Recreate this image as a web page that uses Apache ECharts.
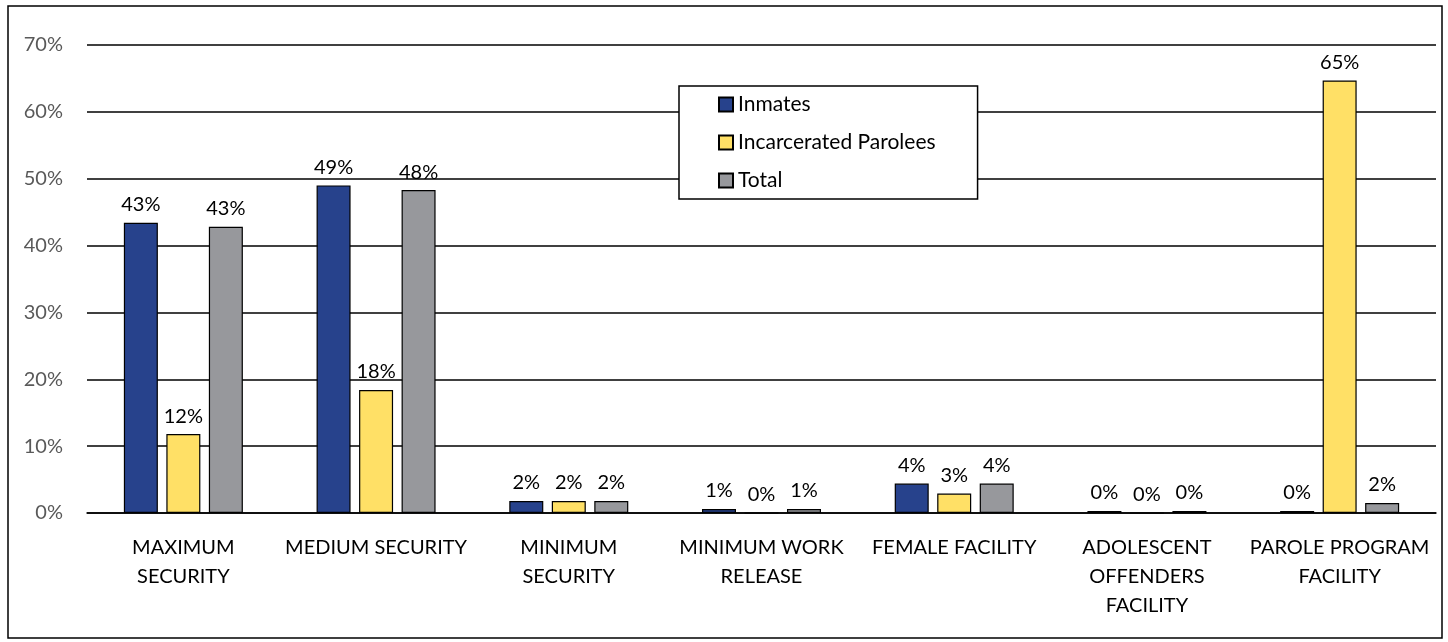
<!DOCTYPE html>
<html>
<head>
<meta charset="utf-8">
<script src="https://cdn.jsdelivr.net/npm/echarts@6/dist/echarts.min.js"></script>
<style>html,body{margin:0;padding:0;background:#fff}#c{width:1448px;height:642px}</style>
</head>
<body>
<div id="c"></div>
<script>
const categories = ['MAXIMUM\nSECURITY', 'MEDIUM SECURITY', 'MINIMUM\nSECURITY', 'MINIMUM WORK\nRELEASE', 'FEMALE FACILITY', 'ADOLESCENT\nOFFENDERS\nFACILITY', 'PAROLE PROGRAM\nFACILITY'];
const inmates = [43.4, 49.0, 1.8, 0.6, 4.4, 0.3, 0.3];
const parolees = [11.8, 18.4, 1.8, 0.0, 2.9, 0.0, 64.7];
const total = [42.8, 48.3, 1.8, 0.6, 4.4, 0.3, 1.5];
const yTicks = [0, 10, 20, 30, 40, 50, 60, 70];

const font = 'Lato, "Noto Sans", sans-serif';
const chart = echarts.init(document.getElementById('c'));
function mk(name, data, color) {
  return {
    name, type: 'bar', data, barWidth: 34, barGap: '25%',
    itemStyle: { color, borderColor: '#000', borderWidth: 1.2 },
    label: { show: true, position: 'top', distance: 8, color: '#000', fontSize: 20, fontFamily: font,
      formatter: p => Math.round(p.value) + '%' }
  };
}
chart.setOption({
  animation: false,
  graphic: [{ type: 'rect', shape: { x: 8, y: 6, width: 1434, height: 632 }, style: { fill: 'none', stroke: '#000', lineWidth: 1.5 }, silent: true }],
  legend: {
    orient: 'vertical', left: 679, top: 86,
    padding: [8, 42, 8, 39], itemGap: 17, itemWidth: 14, itemHeight: 14,
    borderColor: '#000', borderWidth: 1.5, backgroundColor: '#fff',
    icon: 'rect',
    textStyle: { fontSize: 21, fontFamily: font, color: '#000' },
    data: ['Inmates', 'Incarcerated Parolees', 'Total']
  },
  grid: { left: 87, right: 12, top: 45, bottom: 129, containLabel: false },
  xAxis: {
    type: 'category', data: categories,
    axisLine: { lineStyle: { color: '#000', width: 1.5 } },
    axisTick: { show: false },
    axisLabel: { color: '#000', fontSize: 20, fontFamily: font, margin: 20, lineHeight: 29, interval: 0 }
  },
  yAxis: {
    type: 'value', min: 0, max: 70, interval: 10,
    axisLine: { show: false }, axisTick: { show: false },
    splitLine: { lineStyle: { color: '#000', width: 1.5 } },
    axisLabel: { color: '#595959', fontSize: 20, fontFamily: font, margin: 24,
      formatter: v => yTicks.includes(v) ? v + '%' : '' }
  },
  series: [
    mk('Inmates', inmates, '#27428C'),
    mk('Incarcerated Parolees', parolees, '#FFE066'),
    mk('Total', total, '#97989C')
  ]
});
</script>
</body>
</html>
